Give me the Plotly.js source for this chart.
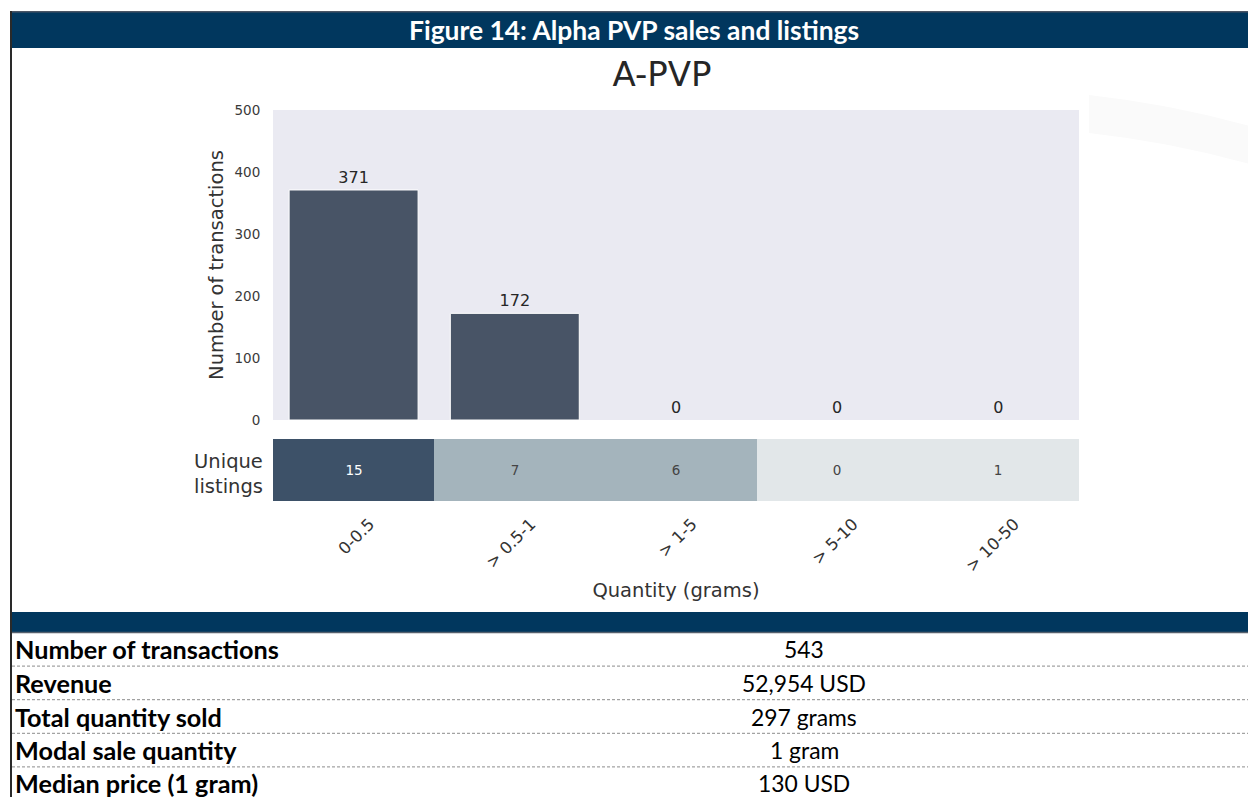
<!DOCTYPE html>
<html>
<head>
<meta charset="utf-8">
<script src="https://cdn.plot.ly/plotly-3.0.1.min.js"></script>
<style>
  html, body { margin: 0; padding: 0; background: #ffffff; }
  #chart { width: 1248px; height: 797px; }
</style>
</head>
<body>
<div id="chart"></div>
<script>
// ---------------- data ----------------
const categories = ['0-0.5', '> 0.5-1', '> 1-5', '> 5-10', '> 10-50'];
const transactions = [371, 172, 0, 0, 0];
const uniqueListings = [15, 7, 6, 0, 1];
const listingRowLabel = ['Unique listings'];
const yTickValues = [0, 100, 200, 300, 400, 500];

const figureTitle = 'Figure 14: Alpha PVP sales and listings';
const chartTitle = 'A-PVP';
const yAxisTitle = 'Number of transactions';
const xAxisTitle = 'Quantity (grams)';

const tableLabels = ['Number of transactions', 'Revenue', 'Total quantity sold', 'Modal sale quantity', 'Median price (1 gram)'];
const tableValues = ['543', '52,954 USD', '297 grams', '1 gram', '130 USD'];

// ---------------- helpers ----------------
const W = 1248, H = 797;
const px = x => x / W;
const py = y => 1 - y / H;

const docFont = 'Lato, "Open Sans", "Liberation Sans", sans-serif';
const chartFont = '"DejaVu Sans", sans-serif';

function fitSize(text, weight, target, fallback) {
  try {
    const ctx = document.createElement('canvas').getContext('2d');
    ctx.font = weight + ' 100px Lato';
    const w = ctx.measureText(text).width;
    if (w > 0) return 100 * target / w;
  } catch (e) {}
  return fallback;
}
const boldSize = fitSize(tableLabels[0], 'bold', 265, 24);
const regSize = fitSize(tableValues[1], 'normal', 124, 24);
const headSize = fitSize(figureTitle, 'bold', 452, 24);

// ---------------- traces ----------------
const barTrace = {
  type: 'bar',
  x: categories,
  y: transactions,
  xaxis: 'x',
  yaxis: 'y',
  width: 0.8,
  marker: { color: '#485466', line: { color: '#ffffff', width: transactions.map(v => (v > 0 ? 1 : 0)) } },
  text: transactions.map(String),
  textposition: 'outside',
  cliponaxis: false,
  textfont: { family: chartFont, size: 16, color: '#262626' },
  hoverinfo: 'skip'
};

const heatTrace = {
  type: 'heatmap',
  x: categories,
  y: listingRowLabel,
  z: [uniqueListings],
  xaxis: 'x2',
  yaxis: 'y2',
  zmin: 0,
  zmax: 15,
  colorscale: [
    [0, '#e2e7e9'], [0.2, '#e2e7e9'],
    [0.2, '#a4b4bc'], [0.6, '#a4b4bc'],
    [0.6, '#3d5168'], [1, '#3d5168']
  ],
  showscale: false,
  texttemplate: '%{z}',
  textfont: { family: chartFont, size: 13.5 },
  hoverinfo: 'skip'
};

// ---------------- shapes ----------------
const shapes = [];
// faint watermark swoosh at top right
const P = (x, y) => px(x).toFixed(5) + ',' + py(y).toFixed(5);
shapes.push({ type: 'path', xref: 'paper', yref: 'paper', layer: 'below',
  path: 'M' + P(1089, 95) + ' Q' + P(1170, 104) + ' ' + P(1250, 126) + ' L' + P(1250, 164) +
        ' Q' + P(1170, 142) + ' ' + P(1089, 133) + ' Z',
  fillcolor: '#fafafa', line: { width: 0 } });
// header band
shapes.push({ type: 'rect', xref: 'paper', yref: 'paper', x0: px(10), x1: px(1260), y0: py(48), y1: py(11.5),
  fillcolor: '#01375e', line: { width: 0 } });
shapes.push({ type: 'line', xref: 'paper', yref: 'paper', x0: px(10), x1: px(1260), y0: py(11.8), y1: py(11.8),
  line: { color: '#4a5565', width: 1.5 } });
// table band
shapes.push({ type: 'rect', xref: 'paper', yref: 'paper', x0: px(10), x1: px(1260), y0: py(632.5), y1: py(612),
  fillcolor: '#01375e', line: { width: 0 } });
shapes.push({ type: 'line', xref: 'paper', yref: 'paper', x0: px(10), x1: px(1260), y0: py(632.5), y1: py(632.5),
  line: { color: '#56606d', width: 1.5 } });
// left frame border
shapes.push({ type: 'line', xref: 'paper', yref: 'paper', x0: px(11), x1: px(11), y0: py(11), y1: py(800),
  line: { color: '#2a2a2a', width: 2 } });
// table row separators
const rowTop = 632.5, rowH = 33.6;
for (let i = 1; i < tableLabels.length; i++) {
  const y = rowTop + i * rowH;
  shapes.push({ type: 'line', xref: 'paper', yref: 'paper', x0: px(12), x1: px(1260), y0: py(y), y1: py(y),
    line: { color: '#8c8c8c', width: 1, dash: '3px,2px' } });
}

// ---------------- annotations ----------------
const annotations = [];
annotations.push({ xref: 'paper', yref: 'paper', x: px(634), y: py(30), xanchor: 'center', yanchor: 'middle',
  text: '<b>' + figureTitle + '</b>', showarrow: false,
  font: { family: docFont, size: headSize, color: '#ffffff' } });
annotations.push({ xref: 'paper', yref: 'paper', x: px(228), y: py(474), xanchor: 'center', yanchor: 'middle',
  text: listingRowLabel[0].replace(' ', '<br>'), showarrow: false, align: 'center',
  font: { family: chartFont, size: 19.5, color: '#333333' } });
tableLabels.forEach((lab, i) => {
  const yc = rowTop + (i + 0.5) * rowH - (i === tableLabels.length - 1 ? 1 : 0);
  annotations.push({ xref: 'paper', yref: 'paper', x: px(13), y: py(yc), xanchor: 'left', yanchor: 'middle',
    text: '<b>' + lab + '</b>', showarrow: false,
    font: { family: docFont, size: boldSize, color: '#000000' } });
  annotations.push({ xref: 'paper', yref: 'paper', x: px(804), y: py(yc), xanchor: 'center', yanchor: 'middle',
    text: tableValues[i], showarrow: false,
    font: { family: docFont, size: regSize, color: '#000000' } });
});

// ---------------- layout ----------------
const xDomain = [px(273), px(1079)];
const layout = {
  width: W,
  height: H,
  margin: { l: 0, r: 0, t: 0, b: 0 },
  paper_bgcolor: '#ffffff',
  plot_bgcolor: '#eaeaf2',
  showlegend: false,
  font: { family: chartFont, color: '#333333' },
  title: { text: chartTitle, x: px(662), xanchor: 'center', y: py(74), yanchor: 'middle',
    font: { family: chartFont, size: 34, color: '#262626' } },
  xaxis: { domain: xDomain, anchor: 'y', type: 'category', range: [-0.5, 4.5],
    showticklabels: false, showgrid: false, zeroline: false, showline: false, ticks: '' },
  yaxis: { domain: [py(420), py(110)], anchor: 'x', range: [0, 500], tickvals: yTickValues,
    showgrid: false, zeroline: false, showline: false,
    ticks: 'outside', ticklen: 9, tickcolor: 'rgba(0,0,0,0)',
    tickfont: { family: chartFont, size: 13.5, color: '#3a3a3a' },
    title: { text: yAxisTitle, standoff: 5, font: { family: chartFont, size: 19.5, color: '#333333' } } },
  xaxis2: { domain: xDomain, anchor: 'y2', type: 'category', range: [-0.5, 4.5],
    showgrid: false, zeroline: false, showline: false,
    ticks: 'outside', ticklen: 6, tickcolor: 'rgba(0,0,0,0)', tickangle: -45, ticklabelshift: 16,
    tickfont: { family: chartFont, size: 16.5, color: '#333333' },
    title: { text: xAxisTitle, standoff: 8, font: { family: chartFont, size: 19.5, color: '#333333' } } },
  yaxis2: { domain: [py(501), py(439)], anchor: 'x2', showticklabels: false, showgrid: false,
    zeroline: false, showline: false, ticks: '' },
  shapes: shapes,
  annotations: annotations
};

Plotly.newPlot('chart', [barTrace, heatTrace], layout, { displayModeBar: false, staticPlot: true });
</script>
</body>
</html>
